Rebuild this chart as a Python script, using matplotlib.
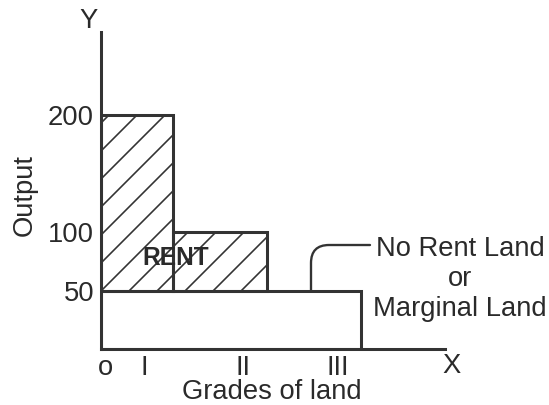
import numpy as np
import matplotlib.pyplot as plt

plt.rcParams['font.family'] = ['Liberation Sans', 'DejaVu Sans']
plt.rcParams['hatch.linewidth'] = 1.4
plt.rcParams['hatch.color'] = '#333333'

# data
grades = ['I', 'II', 'III']
output = np.array([200, 100, 50])     # total output per grade
marginal = 50                          # output of no-rent land
widths = np.array([72, 94, 94])        # schematic widths of the grades
tick_pos = [4, 43, 142, 237]
tick_lab = ['o'] + grades
yticks = [50, 100, 200]

lefts = np.concatenate([[0], np.cumsum(widths)[:-1]])
rent = output - marginal
col = '#333333'
txt = '#2a2a2a'

fig = plt.figure(figsize=(549 / 84, 405 / 84), dpi=84)
ax = fig.add_axes([101 / 549, 56 / 405, 344 / 549, 317 / 405])

# cost part (up to marginal output) - one box for all grades
ax.bar(0, marginal, width=widths.sum(), align='edge', facecolor='none',
       edgecolor=col, linewidth=2.6)
# rent part, hatched
ax.bar(lefts[:2], rent[:2], width=widths[:2], bottom=marginal, align='edge',
       facecolor='none', edgecolor=col, hatch='/', linewidth=2.6)

ax.set_xlim(0, 344)
ax.set_ylim(0, 271.3)
for s in ['top', 'right']:
    ax.spines[s].set_visible(False)
for s in ['left', 'bottom']:
    ax.spines[s].set_linewidth(2.6)
    ax.spines[s].set_color(col)

ax.set_yticks(yticks, [str(v) for v in yticks])
ax.set_xticks(tick_pos, tick_lab)
ax.tick_params(length=0, labelsize=23.5, labelcolor=txt)
ax.tick_params(axis='y', pad=6)
ax.tick_params(axis='x', pad=5)

ax.set_xlabel('Grades of land', fontsize=23.5, color=txt)
ax.xaxis.set_label_coords(0.497, -0.095)
ax.set_ylabel('Output', fontsize=23.5, color=txt)
ax.yaxis.set_label_coords(-0.183, 0.485)

fig.text(88 / 549, 1 - 21 / 405, 'Y', fontsize=23.5, color=txt, ha='center', va='center')
fig.text(452 / 549, 1 - 366 / 405, 'X', fontsize=23.5, color=txt, ha='center', va='center')

ax.text(widths[0] + 3, (marginal + output[1]) / 2 + 3, 'RENT', fontsize=21,
        fontweight='bold', color=txt, ha='center', va='center')

ax.annotate('', xy=(210, marginal), xytext=(269, 89),
            arrowprops=dict(arrowstyle='-', color=col, lw=2.0, shrinkA=0, shrinkB=0,
                            connectionstyle='angle,angleA=0,angleB=90,rad=18'))
ax.text(359, 60, 'No Rent Land\nor\nMarginal Land', fontsize=23.5, color=txt,
        ha='center', va='center', multialignment='center', clip_on=False)

fig.savefig('out.png', dpi=84)
